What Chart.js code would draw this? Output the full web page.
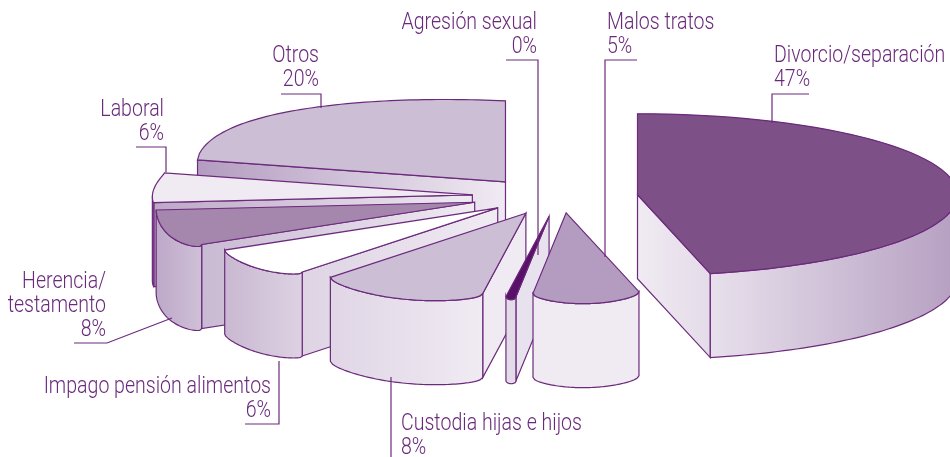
<!DOCTYPE html>
<html>
<head>
<meta charset="utf-8">
<title>Motivos</title>
<script src="https://cdn.jsdelivr.net/npm/chart.js@4"></script>
<style>
html, body { margin: 0; background: #fff; }
canvas { display: block; }
</style>
</head>
<body>
<canvas id="myChart" width="950" height="457"></canvas>
<script>
// Data, clockwise from twelve o'clock. Shares are what the drawn angles show,
// percents are the rounded figures printed next to them.
const categories = ['Divorcio/separación', 'Malos tratos', 'Agresión sexual', 'Custodia hijas e hijos',
    'Impago pensión alimentos', 'Herencia/testamento', 'Laboral', 'Otros'];
const shares = [46.3, 5.3, 0.5, 8.3, 5.8, 7.2, 5.9, 20.6];
const percents = [47, 5, 0, 8, 6, 8, 6, 20];

// Styles for each slice
const topColors = ['#7e5088', '#b39cc0', '#5a0f68', '#ccbed5', '#ffffff', '#a587ae', '#f0ebf3', '#ccbed5'];
const rimColors = [['#e8e0ec', '#b59fc1'], ['#f0ebf3', '#f0ebf3'], ['#e4dbe8', '#e4dbe8'], ['#e0d6e6', '#f0ebf3'],
    ['#c9b8d1', '#ddd2e3'], ['#bda8c8', '#cfc1d8'], ['#8d6a9c', '#a88bb4'], ['#ccbed5', '#ccbed5']];
const faceColors = [['#f0ebf3', '#e4dbe8'], ['#f0ebf3', '#f0ebf3'], ['#e8e2ee', '#e8e2ee'], ['#f0ebf3', '#f0ebf3'],
    ['#ded4e4', '#f0ebf3'], ['#c9bad3', '#f0ebf3'], ['#bda8c8', '#f0ebf3'], ['#b39cc0', '#f0ebf3']];
const explode = [77, 82, 100, 91, 85, 91, 89, 92];
const bulge = [0, 10, 3, 11, 7, 9, 2, -12];

// Look of the tilted pie
const pieRadius = 320;
const tilt = 0.253;
const explodeTilt = 0.2;
const depth = 84;
const lineColor = '#6c2a7c';
const textColor = '#6a2a7c';
const textSqueeze = 0.85;

// Annotation text: [lines, align, x, first baseline, leader points]
const annotations = [
    [[categories[0]], 'left', 774, 62, [[809, 94], [772, 94], [772, 123]]],
    [[categories[1]], 'left', 607, 29, [[637, 60], [605, 60], [605, 257]]],
    [[categories[2]], 'right', 537, 29, [[506, 60], [538, 60], [538, 255]]],
    [[categories[3]], 'left', 401, 430, [[391, 457], [391, 377]]],
    [[categories[4]], 'right', 271, 393, [[245, 424], [279, 424], [279, 361]]],
    [['Herencia/', 'testamento'], 'right', 106, 288, [[74, 343], [107, 343], [172, 318]]],
    [[categories[6]], 'right', 164, 116, [[136, 147], [166, 147], [166, 172]]],
    [[categories[7]], 'right', 319, 62, [[281, 94], [321, 94], [321, 108]]]
];

function hGradient(ctx, x0, x1, stops) {
    let g = ctx.createLinearGradient(x0, 0, x1, 0);
    g.addColorStop(0, stops[0]);
    g.addColorStop(1, stops[1]);
    return g;
}

function strokeFill(ctx, fill) {
    ctx.fillStyle = fill;
    ctx.fill();
    ctx.strokeStyle = lineColor;
    ctx.lineWidth = 1.2;
    ctx.stroke();
}

function drawFace(ctx, ax, ay, angle, stops) {
    let px = ax + pieRadius * Math.cos(angle);
    let py = ay + pieRadius * tilt * Math.sin(angle);
    ctx.beginPath();
    ctx.moveTo(ax, ay);
    ctx.lineTo(px, py);
    ctx.lineTo(px, py + depth);
    ctx.lineTo(ax, ay + depth);
    ctx.closePath();
    strokeFill(ctx, hGradient(ctx, Math.min(ax, px), Math.max(ax, px) + 1, stops));
}

// Trace the curved edge of a slice, bulged a little past the plain ellipse
function traceEdge(ctx, arc, i, ax, ay, from, to) {
    let span = arc.endAngle - arc.startAngle;
    for (let s = 0; s <= 60; s++) {
        let phi = from + (to - from) * s / 60;
        let t = Math.min(Math.max((phi - arc.startAngle) / span, 0), 1);
        let sag = bulge[i] > 0
            ? bulge[i] * Math.sqrt(Math.sin(Math.PI * t))
            : bulge[i] * Math.sin(Math.PI * Math.sqrt(t));
        ctx.lineTo(ax + pieRadius * Math.cos(phi), ay + pieRadius * tilt * Math.sin(phi) + sag);
    }
}

function drawSlice(ctx, arc, i) {
    let mid = (arc.startAngle + arc.endAngle) / 2;
    let ax = arc.x + explode[i] * Math.cos(mid);
    let ay = arc.y + explode[i] * explodeTilt * Math.sin(mid);

    // cut faces turned towards the viewer
    if (Math.cos(arc.startAngle) < 0) drawFace(ctx, ax, ay, arc.startAngle, faceColors[i]);
    if (Math.cos(arc.endAngle) > 0) drawFace(ctx, ax, ay, arc.endAngle, faceColors[i]);

    // outer rim, only the front half of the ellipse
    let a = Math.max(arc.startAngle, 0);
    let b = Math.min(arc.endAngle, Math.PI);
    if (b > a) {
        let xa = ax + pieRadius * Math.cos(a);
        let xb = ax + pieRadius * Math.cos(b);
        ctx.beginPath();
        traceEdge(ctx, arc, i, ax, ay, a, b);
        traceEdge(ctx, arc, i, ax, ay + depth, b, a);
        ctx.closePath();
        strokeFill(ctx, hGradient(ctx, Math.min(xa, xb), Math.max(xa, xb) + 1, rimColors[i]));
    }

    // top surface, the library's own arc under a flattening transform
    ctx.save();
    ctx.translate(ax, ay);
    ctx.scale(1, tilt);
    ctx.translate(-arc.x, -arc.y);
    arc.draw(ctx);
    ctx.restore();

    ctx.beginPath();
    ctx.moveTo(ax, ay);
    traceEdge(ctx, arc, i, ax, ay, arc.startAngle, arc.endAngle);
    ctx.closePath();
    strokeFill(ctx, arc.options.backgroundColor);
}

const tiltedPie = {
    id: 'tiltedPie',
    beforeDatasetDraw(chart) {
        let arcs = chart.getDatasetMeta(0).data;
        // back to front is simply the reverse of the data order here
        for (let i = arcs.length - 1; i >= 0; i--) {
            drawSlice(chart.ctx, arcs[i], i);
        }
        return false;
    },
    afterDraw(chart) {
        let ctx = chart.ctx;
        ctx.save();
        ctx.fillStyle = textColor;
        annotations.forEach((note, i) => {
            let lines = note[0].concat(percents[i] + '%');
            ctx.font = '300 23px Roboto, "Liberation Sans", sans-serif';
            ctx.textAlign = note[1];
            lines.forEach((line, j) => {
                ctx.save();
                ctx.translate(note[2], note[3] + j * 24);
                ctx.scale(textSqueeze, 1);
                ctx.fillText(line, 0, 0);
                ctx.restore();
            });
            ctx.beginPath();
            note[4].forEach((p, j) => j ? ctx.lineTo(p[0], p[1]) : ctx.moveTo(p[0], p[1]));
            ctx.strokeStyle = lineColor;
            ctx.lineWidth = 1.2;
            ctx.stroke();
        });
        ctx.restore();
    }
};

new Chart(document.getElementById('myChart'), {
    type: 'pie',
    plugins: [tiltedPie],
    data: {
        labels: categories,
        datasets: [{
            data: shares,
            backgroundColor: topColors,
            borderWidth: 0,
            clip: false
        }]
    },
    options: {
        responsive: false,
        animation: false,
        radius: pieRadius,
        layout: { padding: { left: 172, bottom: 64 } },
        plugins: { legend: { display: false }, tooltip: { enabled: false } }
    }
});
</script>
</body>
</html>
